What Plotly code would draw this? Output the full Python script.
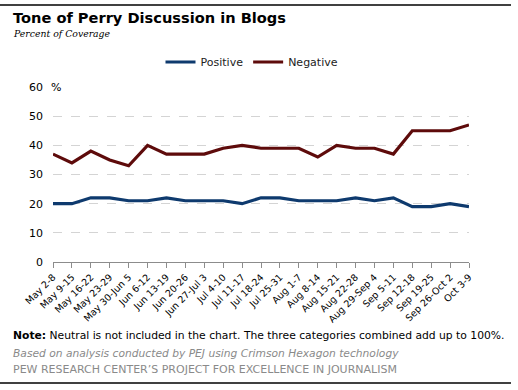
import plotly.graph_objects as go

weeks = ["May 2-8", "May 9-15", "May 16-22", "May 23-29", "May 30-Jun 5", "Jun 6-12",
         "Jun 13-19", "Jun 20-26", "Jun 27-Jul 3", "Jul 4-10", "Jul 11-17", "Jul 18-24",
         "Jul 25-31", "Aug 1-7", "Aug 8-14", "Aug 15-21", "Aug 22-28", "Aug 29-Sep 4",
         "Sep 5-11", "Sep 12-18", "Sep 19-25", "Sep 26-Oct 2", "Oct 3-9"]
positive = [20, 20, 22, 22, 21, 21, 22, 21, 21, 21, 20, 22, 22, 21, 21, 21, 22, 21, 22, 19, 19, 20, 19]
negative = [37, 34, 38, 35, 33, 40, 37, 37, 37, 39, 40, 39, 39, 39, 36, 40, 39, 39, 37, 45, 45, 45, 47]
y_ticks = [0, 10, 20, 30, 40, 50, 60]

W, H = 518, 390
L, R, T, B = 53, 469, 87, 262  # plot area in pixels

def px(x):
    return (x - L) / (R - L)

def py(y):
    return (B - y) / (B - T)

FONT = "DejaVu Sans"
BLUE = "#0E3A6E"
RED = "#5E0B0B"

fig = go.Figure()
fig.add_trace(go.Scatter(x=weeks, y=positive, name="Positive", mode="lines",
                         line=dict(color=BLUE, width=3.2)))
fig.add_trace(go.Scatter(x=weeks, y=negative, name="Negative", mode="lines",
                         line=dict(color=RED, width=3.2)))

fig.update_layout(
    width=W, height=H,
    margin=dict(l=L, r=W - R, t=T, b=H - B),
    paper_bgcolor="white", plot_bgcolor="white",
    font=dict(family=FONT, size=10, color="black"),
    showlegend=True,
    legend=dict(orientation="h", x=px(252), xanchor="center", y=py(62), yanchor="middle",
                font=dict(family=FONT, size=11, color="#222"), itemwidth=30,
                tracegroupgap=0, bgcolor="rgba(0,0,0,0)"),
    xaxis=dict(type="category", range=[0, len(weeks) - 1], tickangle=-45,
               showgrid=False, showline=True, linecolor="#8c8c8c", linewidth=1,
               ticks="outside", ticklen=5, tickcolor="#8c8c8c",
               tickfont=dict(family=FONT, size=9.5, color="black")),
    yaxis=dict(range=[0, 60], tickvals=y_ticks, showgrid=True, gridcolor="#d4d4d4",
               griddash="dash", gridwidth=1, zeroline=False, showline=False,
               ticks="", ticklabelstandoff=9,
               tickfont=dict(family=FONT, size=11, color="black")),
)

fig.add_annotation(xref="paper", yref="paper", x=px(49), y=py(87), text="%",
                   showarrow=False, xanchor="left", yanchor="middle",
                   font=dict(family=FONT, size=11, color="black"), bgcolor="white")

fig.add_annotation(xref="paper", yref="paper", x=px(11), y=py(18),
                   text="<b>Tone of Perry Discussion in Blogs</b>", showarrow=False,
                   xanchor="left", yanchor="middle",
                   font=dict(family=FONT, size=14.6, color="black"))
fig.add_annotation(xref="paper", yref="paper", x=px(11), y=py(34),
                   text="<i>Percent of Coverage</i>", showarrow=False,
                   xanchor="left", yanchor="middle",
                   font=dict(family="DejaVu Serif", size=9.3, color="black"))

fig.add_annotation(xref="paper", yref="paper", x=px(11), y=py(335),
                   text="<b>Note:</b> Neutral is not included in the chart. The three categories combined add up to 100%.",
                   showarrow=False, xanchor="left", yanchor="middle",
                   font=dict(family=FONT, size=10.75, color="black"))
fig.add_annotation(xref="paper", yref="paper", x=px(11), y=py(353),
                   text="<i>Based on analysis conducted by PEJ using Crimson Hexagon technology</i>",
                   showarrow=False, xanchor="left", yanchor="middle",
                   font=dict(family=FONT, size=10.7, color="#8a8a8a"))
fig.add_annotation(xref="paper", yref="paper", x=px(11), y=py(369),
                   text="PEW RESEARCH CENTER\u2019S PROJECT FOR EXCELLENCE IN JOURNALISM",
                   showarrow=False, xanchor="left", yanchor="middle",
                   font=dict(family=FONT, size=11.0, color="#8a8a8a"))

fig.add_shape(type="line", xref="paper", yref="paper", x0=px(0), x1=px(511),
              y0=py(5), y1=py(5), line=dict(color="black", width=1.5))
fig.add_shape(type="line", xref="paper", yref="paper", x0=px(0), x1=px(511),
              y0=py(383), y1=py(383), line=dict(color="black", width=1.5))

fig.write_html("out.html", config={"displayModeBar": False},
               post_script="document.body.style.margin='0';document.body.style.overflow='hidden';"
                           "document.documentElement.style.overflow='hidden';")
